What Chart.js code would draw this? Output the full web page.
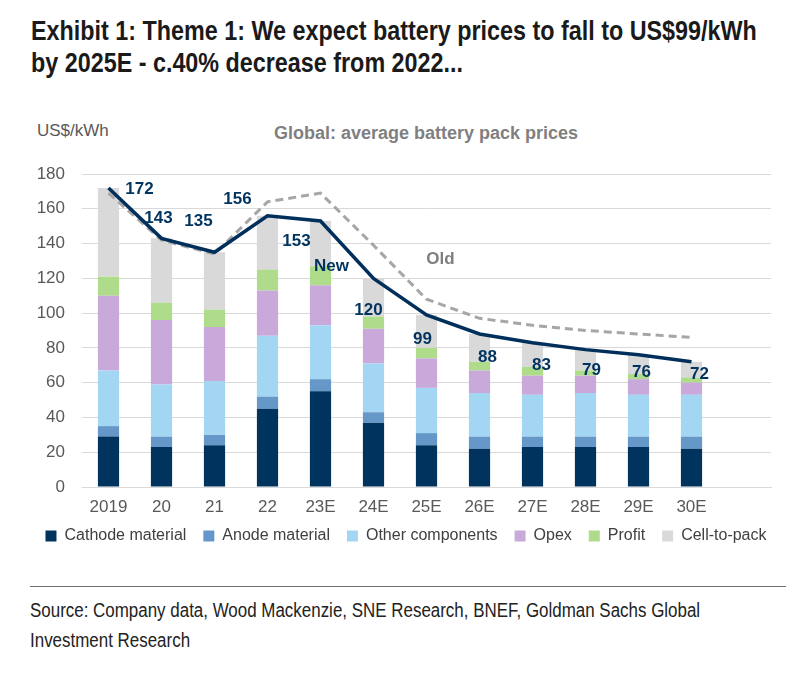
<!DOCTYPE html>
<html>
<head>
<meta charset="utf-8">
<script src="https://cdn.jsdelivr.net/npm/chart.js@4.4.0/dist/chart.umd.min.js"></script>
<style>
  html, body { margin: 0; padding: 0; background: #fff; }
  body { width: 812px; height: 683px; position: relative; overflow: hidden; }
  .narrow { position: absolute; white-space: nowrap; transform-origin: 0 0;
    font-family: 'Liberation Sans', Arial, sans-serif; }
  .title { left: 31px; font-weight: bold; font-size: 27px; line-height: 31px; color: #1a1a1a; }
  .source { left: 30px; font-size: 20px; line-height: 28px; color: #222; }
  .unit { position: absolute; left: 37px; top: 121px; font-family: 'Liberation Sans', Arial, sans-serif;
    font-size: 17px; color: #595959; }
  .subtitle { position: absolute; left: 0; width: 852px; text-align: center; top: 123px;
    font-family: 'Liberation Sans', Arial, sans-serif; font-weight: bold; font-size: 18px; color: #7f7f7f; }
  .rule { position: absolute; left: 30px; width: 756px; top: 586px; border-top: 1px solid #6d6d6d; }
  #wrap { position: absolute; left: 0; top: 110px; width: 812px; height: 444px; }
</style>
</head>
<body>
<div class="narrow title" id="t1" style="top:16px">Exhibit 1: Theme 1: We expect battery prices to fall to US$99/kWh</div>
<div class="narrow title" id="t2" style="top:48px">by 2025E - c.40% decrease from 2022...</div>
<div class="unit">US$/kWh</div>
<div class="subtitle">Global: average battery pack prices</div>
<div id="wrap"><canvas id="chart" width="812" height="444"></canvas></div>
<div class="rule"></div>
<div class="narrow source" id="s1" style="top:596px">Source: Company data, Wood Mackenzie, SNE Research, BNEF, Goldman Sachs Global</div>
<div class="narrow source" id="s2" style="top:626px">Investment Research</div>

<script>
// kategorier (år)
const categories = ['2019', '20', '21', '22', '23E', '24E', '25E', '26E', '27E', '28E', '29E', '30E'];

// staplade komponenter, US$/kWh
const cathode    = [29, 23, 24, 45, 55, 37, 24, 22, 23, 23, 23, 22];
const anode      = [6, 6, 6, 7, 7, 6, 7, 7, 6, 6, 6, 7];
const other      = [32, 30, 31, 35, 31, 28, 26, 25, 24, 25, 24, 24];
const opex       = [43, 37, 31, 26, 23, 20, 17, 13, 11, 10, 9, 7];
const profit     = [11, 10, 10, 12, 11, 7, 6, 5, 5, 3, 3, 3];
const cellToPack = [51, 37, 33, 31, 26, 22, 19, 16, 14, 12, 11, 9];

// linjer
const newForecast = [172, 143, 135, 156, 153, 120, 99, 88, 83, 79, 76, 72];
const oldForecast = [169, 142, 134, 164, 169, 139, 108, 97, 93, 90, 88, 86];

const yTicks = [0, 20, 40, 60, 80, 100, 120, 140, 160, 180];

const NAVY = '#00345f';
const FONT = "'Liberation Sans', Arial, sans-serif";

// smal rubrikstil: pressa ihop texten till referensens bredd
function squeeze(ids, target) {
  const k = target / document.getElementById(ids[0]).offsetWidth;
  ids.forEach(id => { document.getElementById(id).style.transform = 'scaleX(' + k + ')'; });
}
squeeze(['t1', 't2'], 726);
squeeze(['s1', 's2'], 670);

// etiketter vid linjen (förskjutning i px från punkten)
const labelShift = [[31, 1], [-3, -20], [-16, -31], [-30, -16], [-24, 20], [-5, 32],
                    [-4, 24], [8, 23], [9, 23], [6, 21], [3, 17], [8, 13]];

const lineLabels = {
  id: 'lineLabels',
  afterDatasetsDraw(chart) {
    const ctx = chart.ctx;
    const x = chart.scales.x, y = chart.scales.y;
    ctx.save();
    // x-axelns etiketter (ritas här så att legenden inte klipper dem)
    ctx.font = '17px ' + FONT;
    ctx.textAlign = 'center';
    ctx.textBaseline = 'middle';
    ctx.fillStyle = '#595959';
    categories.forEach((c, i) => ctx.fillText(c, x.getPixelForValue(i), chart.chartArea.bottom + 20));

    ctx.font = 'bold 17px ' + FONT;
    ctx.fillStyle = NAVY;
    newForecast.forEach((v, i) => {
      const px = x.getPixelForValue(i) + labelShift[i][0];
      const py = y.getPixelForValue(v) + labelShift[i][1];
      ctx.fillText(String(v), px, py);
    });
    // New / Old
    ctx.fillText('New', x.getPixelForValue(4) + 11, y.getPixelForValue(127));
    ctx.fillStyle = '#7f7f7f';
    ctx.fillText('Old', x.getPixelForValue(6) + 14, y.getPixelForValue(131));
    ctx.restore();
  }
};

function barSet(label, data, color) {
  return { type: 'bar', label: label, data: data, backgroundColor: color, stack: 'bars',
           barPercentage: 0.4, categoryPercentage: 1, order: 2 };
}

const chart = new Chart(document.getElementById('chart'), {
  data: {
    labels: categories.concat(['']),
    datasets: [
      barSet('Cathode material', cathode, NAVY),
      barSet('Anode material', anode, '#6598c9'),
      barSet('Other components', other, '#a2d6f3'),
      barSet('Opex', opex, '#c9a9da'),
      barSet('Profit', profit, '#afdc8a'),
      barSet('Cell-to-pack', cellToPack, '#d9d9d9'),
      { type: 'line', label: 'Old', data: oldForecast, stack: 'old', borderColor: '#a6a6a6', borderWidth: 3,
        borderDash: [8, 5], pointRadius: 0, tension: 0, order: 1 },
      { type: 'line', label: 'New', data: newForecast, stack: 'new', borderColor: '#002f5c', borderWidth: 3.5,
        pointRadius: 0, tension: 0, order: 0 }
    ]
  },
  options: {
    responsive: false,
    animation: false,
    layout: { padding: { left: 0, right: 0, top: 64, bottom: 0 } },
    plugins: {
      tooltip: { enabled: false },
      legend: {
        position: 'bottom',
        labels: {
          filter: item => item.datasetIndex < 6,
          boxWidth: 11, boxHeight: 11, padding: 17,
          color: '#404040', font: { family: FONT, size: 16 }
        }
      }
    },
    scales: {
      x: {
        stacked: true,
        afterFit: s => { s.height = 24; },
        grid: { display: false, drawTicks: false },
        border: { color: '#d9d9d9' },
        ticks: { display: false }
      },
      y: {
        stacked: true,
        min: 0, max: 180,
        afterBuildTicks: s => { s.ticks = yTicks.map(v => ({ value: v })); },
        afterFit: s => { s.width = 82; },
        grid: { color: '#d9d9d9', drawTicks: false },
        border: { display: false },
        ticks: { color: '#595959', font: { family: FONT, size: 17 }, padding: 17 }
      },
      // tom högermarginal
      yRight: {
        position: 'right',
        afterFit: s => { s.width = 41; },
        grid: { display: false, drawTicks: false },
        border: { display: false },
        ticks: { display: false }
      }
    }
  },
  plugins: [lineLabels]
});
</script>
</body>
</html>
